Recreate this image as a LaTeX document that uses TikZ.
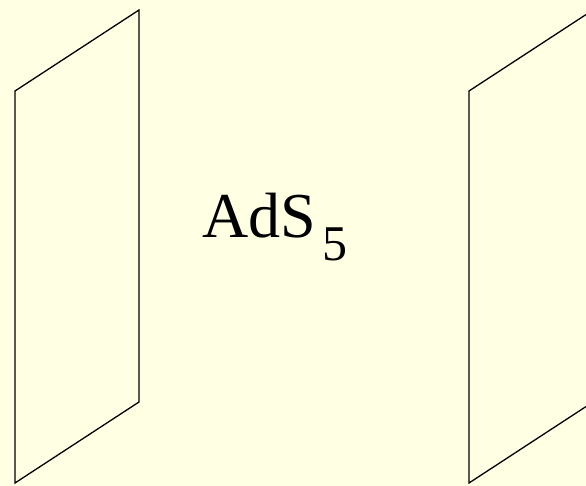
\documentclass[tikz,border=0pt]{standalone}
\usepackage{fontspec}
\setmainfont{Liberation Serif}
\usepackage{tikz}
\usetikzlibrary{calc}
\usepackage{xcolor}
\definecolor{paleyellow}{RGB}{255,255,227}

\begin{document}
\begin{tikzpicture}[x=1pt, y=1pt, line cap=round, line join=miter]
\tikzset{brane/.style={draw=black, line width=1.3pt}}
% Page and background
\useasboundingbox (0,0) rectangle (586,486);
\fill[paleyellow] (0,0) rectangle (586,486);
\clip (0,0) rectangle (586,486);
% Coordinates of the left brane
\coordinate (L1) at (15,395);
\coordinate (L2) at (139,476);
\coordinate (L3) at (139,84);
\coordinate (L4) at (15,3);
% Right brane: same sheet shifted right
\coordinate (R1) at ($(L1)+(454,0)$);
\coordinate (R2) at ($(L2)+(454,0)$);
\coordinate (R3) at ($(L3)+(454,0)$);
\coordinate (R4) at ($(L4)+(454,0)$);
% Branes
\draw[brane] (L1) -- (L2) -- (L3) -- (L4) -- cycle;
\draw[brane] (R1) -- (R2) -- (R3) -- (R4) -- cycle;
% Label
\node[anchor=base west, inner sep=0pt] (bulk) at (202,248)
  {\fontsize{64}{66}\selectfont AdS\hspace{0.1em}\raisebox{-23pt}{\fontsize{50}{52}\selectfont 5}};
\end{tikzpicture}
\end{document}
